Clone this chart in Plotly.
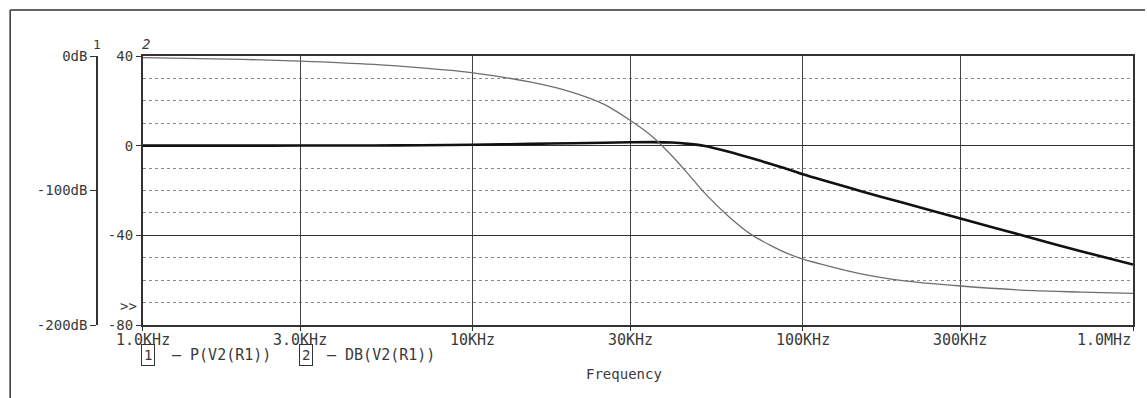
import math
import plotly.graph_objects as go

# ---------------- data ----------------
freq_hz = [1e3, 2e3, 3e3, 5e3, 7e3, 10e3, 15e3, 20e3, 25e3, 30e3, 35e3, 40e3, 45e3,
           50e3, 60e3, 70e3, 80e3, 90e3, 100e3, 150e3, 200e3, 300e3, 500e3, 700e3, 1e6]
phase_v2 = [-1.2, -2.5, -3.8, -6.3, -8.9, -12.5, -19.5, -27, -36, -48, -60, -74, -88,
            -101, -120, -133, -141, -147, -151, -162, -167, -171, -174.5, -175.5, -176.5]
db_v2 = [0, 0, 0.05, 0.1, 0.2, 0.4, 0.8, 1.1, 1.3, 1.5, 1.6, 1.4, 0.8,
         0, -2.8, -5.6, -8.2, -10.5, -12.8, -20.3, -25.4, -32.5, -41.4, -47.2, -53]

x_tick_vals = [1e3, 3e3, 10e3, 30e3, 100e3, 300e3, 1e6]
x_tick_text = ["1.0KHz", "3.0KHz", "10KHz", "30KHz", "100KHz", "300KHz", "1.0MHz"]
y1_tick_vals = [40, 0, -40, -80]
y1_tick_text = ["40", "0", "-40", "-80"]
y1_minor_vals = [30, 20, 10, -10, -20, -30, -50, -60, -70]
y2_tick_vals = [0, -100, -200]
y2_tick_text = ["0dB", "-100dB", "-200dB"]

# ---------------- layout helpers ----------------
W, H = 1147, 398
ML, MR, MT, MB = 97, 12, 56, 73
PW, PH = W - ML - MR, H - MT - MB


def px(p):
    return (p - ML) / PW


def py(p):
    return (H - MB - p) / PH


FONT = "DejaVu Sans Mono"
TXT = "#3a3a3a"

fig = go.Figure()
fig.add_trace(go.Scatter(x=freq_hz, y=phase_v2, mode="lines", name="P(V2(R1))",
                         yaxis="y2", line=dict(color="#6e6e6e", width=1.3, shape="spline",
                                               smoothing=0.8)))
fig.add_trace(go.Scatter(x=freq_hz, y=db_v2, mode="lines", name="DB(V2(R1))",
                         yaxis="y", line=dict(color="#111111", width=2.6, shape="spline",
                                              smoothing=0.6)))

annotations = []
for v, t in zip(x_tick_vals, x_tick_text):
    last = v == x_tick_vals[-1]
    annotations.append(dict(x=math.log10(v), xref="x", y=py(340), yref="paper",
                            text=t, showarrow=False, xanchor="right" if last else "center",
                            yanchor="middle", font=dict(family=FONT, size=15, color=TXT)))

annotations += [
    dict(x=px(97), y=py(44), xref="paper", yref="paper", text="1", showarrow=False,
         xanchor="center", yanchor="middle", font=dict(family=FONT, size=13, color=TXT)),
    dict(x=px(146), y=py(44), xref="paper", yref="paper", text="<i>2</i>", showarrow=False,
         xanchor="center", yanchor="middle", font=dict(family=FONT, size=14, color=TXT)),
    dict(x=px(129), y=py(306), xref="paper", yref="paper", text=">>", showarrow=False,
         xanchor="center", yanchor="middle", font=dict(family=FONT, size=14, color=TXT)),
    dict(x=px(148), y=py(355), xref="paper", yref="paper", text="1", showarrow=False,
         xanchor="center", yanchor="middle", bordercolor="#333", borderwidth=1, borderpad=2,
         font=dict(family=FONT, size=14, color=TXT)),
    dict(x=px(170), y=py(355), xref="paper", yref="paper", text="— P(V2(R1))",
         showarrow=False, xanchor="left", yanchor="middle",
         font=dict(family=FONT, size=15, color=TXT)),
    dict(x=px(306), y=py(355), xref="paper", yref="paper", text="2", showarrow=False,
         xanchor="center", yanchor="middle", bordercolor="#333", borderwidth=1, borderpad=2,
         font=dict(family=FONT, size=14, color=TXT)),
    dict(x=px(325), y=py(355), xref="paper", yref="paper", text="— DB(V2(R1))",
         showarrow=False, xanchor="left", yanchor="middle",
         font=dict(family=FONT, size=15, color=TXT)),
    dict(x=px(625), y=py(374), xref="paper", yref="paper", text="Frequency",
         showarrow=False, xanchor="center", yanchor="middle",
         font=dict(family=FONT, size=14, color=TXT)),
]

shapes = [
    dict(type="line", xref="paper", yref="paper", x0=px(10), x1=px(1147), y0=py(10), y1=py(10),
         line=dict(color="#333", width=1.5)),
    dict(type="line", xref="paper", yref="paper", x0=px(10), x1=px(10), y0=py(10), y1=py(398),
         line=dict(color="#333", width=1.5)),
]

fig.update_layout(
    width=W, height=H,
    margin=dict(l=ML, r=MR, t=MT, b=MB, pad=0),
    paper_bgcolor="white", plot_bgcolor="white",
    showlegend=False,
    font=dict(family=FONT, size=14, color=TXT),
    xaxis=dict(type="log", range=[3, 6], domain=[px(143), 1],
               tickvals=x_tick_vals, showticklabels=False,
               ticks="outside", ticklen=4, tickcolor="#333",
               showgrid=True, gridcolor="#444", gridwidth=1,
               showline=True, linecolor="#333", linewidth=1.5, mirror=True, zeroline=False),
    yaxis=dict(range=[-80, 40], tickvals=y1_tick_vals, ticktext=y1_tick_text,
               ticks="outside", ticklen=5, tickcolor="#333",
               showgrid=True, gridcolor="#333", gridwidth=1.2,
               minor=dict(tickvals=y1_minor_vals, showgrid=True, griddash="dot",
                          gridcolor="#8a8a8a", gridwidth=1, ticks=""),
               showline=True, linecolor="#333", linewidth=2, mirror=True, zeroline=False,
               tickfont=dict(family=FONT, size=14, color=TXT)),
    yaxis2=dict(overlaying="y", anchor="free", position=0, side="left",
                range=[-200, 0], tickvals=y2_tick_vals, ticktext=y2_tick_text,
                ticks="outside", ticklen=6, tickcolor="#333",
                showgrid=False, zeroline=False,
                showline=True, linecolor="#333", linewidth=1.5,
                tickfont=dict(family=FONT, size=14, color=TXT)),
    annotations=annotations,
    shapes=shapes,
)

fig.write_html("out.html")
